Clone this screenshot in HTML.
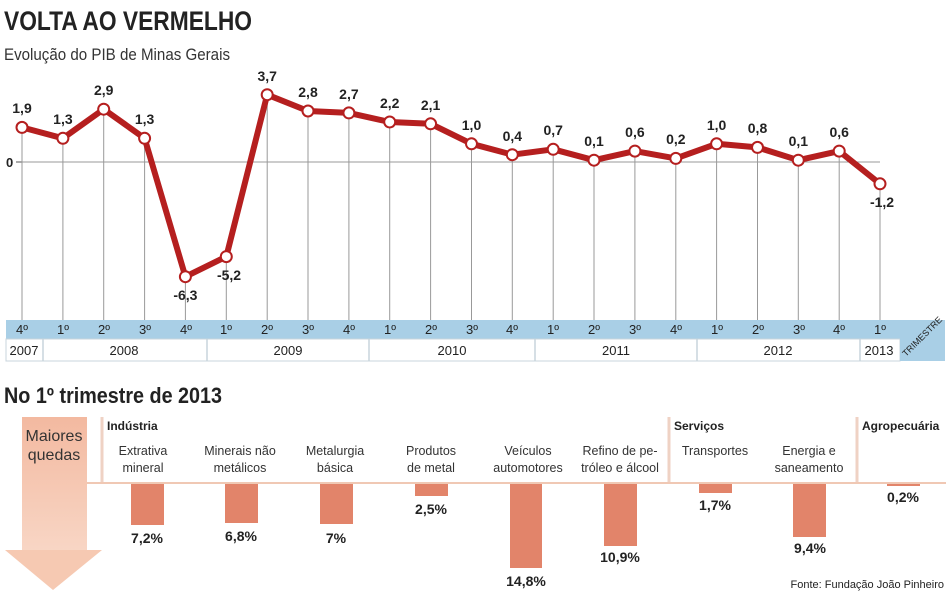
<!DOCTYPE html>
<html><head><meta charset="utf-8"><style>
body{margin:0;background:#fff;}
svg{display:block;font-family:"Liberation Sans",sans-serif;}
</style></head><body>
<svg width="950" height="610" viewBox="0 0 950 610" xmlns="http://www.w3.org/2000/svg">
<defs><linearGradient id="ag" x1="0" y1="0" x2="0" y2="1"><stop offset="0" stop-color="#f3b9a0"/><stop offset="1" stop-color="#f8d6c5"/></linearGradient></defs>
<text x="4" y="30" font-size="27" font-weight="bold" fill="#222" textLength="248" lengthAdjust="spacingAndGlyphs">VOLTA AO VERMELHO</text>
<text x="4" y="60" font-size="17" fill="#333" textLength="226" lengthAdjust="spacingAndGlyphs">Evolução do PIB de Minas Gerais</text>
<line x1="22" y1="162" x2="880" y2="162" stroke="#999" stroke-width="1"/>
<line x1="16" y1="162" x2="22" y2="162" stroke="#555" stroke-width="1"/>
<text x="6" y="167" font-size="13" font-weight="bold" fill="#222">0</text>
<g stroke="#999" stroke-width="1">
<line x1="22" y1="127" x2="22" y2="320"/><line x1="62.9" y1="138" x2="62.9" y2="320"/><line x1="103.7" y1="109" x2="103.7" y2="320"/><line x1="144.6" y1="138" x2="144.6" y2="320"/><line x1="185.4" y1="277" x2="185.4" y2="320"/><line x1="226.3" y1="257" x2="226.3" y2="320"/><line x1="267.2" y1="95" x2="267.2" y2="320"/><line x1="308" y1="111" x2="308" y2="320"/><line x1="348.9" y1="113" x2="348.9" y2="320"/><line x1="389.7" y1="122" x2="389.7" y2="320"/><line x1="430.6" y1="124" x2="430.6" y2="320"/><line x1="471.5" y1="144" x2="471.5" y2="320"/><line x1="512.3" y1="155" x2="512.3" y2="320"/><line x1="553.2" y1="149" x2="553.2" y2="320"/><line x1="594" y1="160" x2="594" y2="320"/><line x1="634.9" y1="151" x2="634.9" y2="320"/><line x1="675.8" y1="158" x2="675.8" y2="320"/><line x1="716.6" y1="144" x2="716.6" y2="320"/><line x1="757.5" y1="147" x2="757.5" y2="320"/><line x1="798.3" y1="160" x2="798.3" y2="320"/><line x1="839.2" y1="151" x2="839.2" y2="320"/><line x1="880" y1="184" x2="880" y2="320"/>
</g>
<polyline fill="none" stroke="#b51f1f" stroke-width="6" stroke-linejoin="round" points="22,127.4 62.9,138.3 103.7,109.2 144.6,138.3 185.4,276.7 226.3,256.6 267.2,94.7 308,111 348.9,112.9 389.7,122 430.6,123.8 471.5,143.8 512.3,154.7 553.2,149.3 594,160.2 634.9,151.1 675.8,158.4 716.6,143.8 757.5,147.4 798.3,160.2 839.2,151.1 880,183.8"/>
<g fill="#fff" stroke="#b51f1f" stroke-width="2">
<circle cx="22" cy="127.4" r="5.5"/><circle cx="62.9" cy="138.3" r="5.5"/><circle cx="103.7" cy="109.2" r="5.5"/><circle cx="144.6" cy="138.3" r="5.5"/><circle cx="185.4" cy="276.7" r="5.5"/><circle cx="226.3" cy="256.6" r="5.5"/><circle cx="267.2" cy="94.7" r="5.5"/><circle cx="308" cy="111" r="5.5"/><circle cx="348.9" cy="112.9" r="5.5"/><circle cx="389.7" cy="122" r="5.5"/><circle cx="430.6" cy="123.8" r="5.5"/><circle cx="471.5" cy="143.8" r="5.5"/><circle cx="512.3" cy="154.7" r="5.5"/><circle cx="553.2" cy="149.3" r="5.5"/><circle cx="594" cy="160.2" r="5.5"/><circle cx="634.9" cy="151.1" r="5.5"/><circle cx="675.8" cy="158.4" r="5.5"/><circle cx="716.6" cy="143.8" r="5.5"/><circle cx="757.5" cy="147.4" r="5.5"/><circle cx="798.3" cy="160.2" r="5.5"/><circle cx="839.2" cy="151.1" r="5.5"/><circle cx="880" cy="183.8" r="5.5"/>
</g>
<g font-size="14" font-weight="bold" fill="#222" text-anchor="middle">
<text x="22" y="113">1,9</text><text x="62.9" y="124">1,3</text><text x="103.7" y="95">2,9</text><text x="144.6" y="124">1,3</text><text x="185.4" y="300">-6,3</text><text x="229" y="280">-5,2</text><text x="267.2" y="81">3,7</text><text x="308" y="97">2,8</text><text x="348.9" y="99">2,7</text><text x="389.7" y="108">2,2</text><text x="430.6" y="110">2,1</text><text x="471.5" y="130">1,0</text><text x="512.3" y="141">0,4</text><text x="553.2" y="135">0,7</text><text x="594" y="146">0,1</text><text x="634.9" y="137">0,6</text><text x="675.8" y="144">0,2</text><text x="716.6" y="130">1,0</text><text x="757.5" y="133">0,8</text><text x="798.3" y="146">0,1</text><text x="839.2" y="137">0,6</text><text x="882" y="207">-1,2</text>
</g>
<rect x="6" y="320" width="939" height="19" fill="#a9cfe6"/>
<rect x="6" y="339" width="894" height="22" fill="#fff" stroke="#c8d4dc" stroke-width="1"/>
<rect x="900" y="320" width="45" height="41" fill="#a9cfe6"/>
<g stroke="#c8d4dc" stroke-width="1.5"><line x1="43" y1="339" x2="43" y2="361"/><line x1="207" y1="339" x2="207" y2="361"/><line x1="369" y1="339" x2="369" y2="361"/><line x1="535" y1="339" x2="535" y2="361"/><line x1="697" y1="339" x2="697" y2="361"/><line x1="860" y1="339" x2="860" y2="361"/></g>
<g font-size="13" fill="#222" text-anchor="middle">
<text x="22" y="334">4º</text><text x="63" y="334">1º</text><text x="104" y="334">2º</text><text x="145" y="334">3º</text><text x="186" y="334">4º</text><text x="226" y="334">1º</text><text x="267" y="334">2º</text><text x="308" y="334">3º</text><text x="349" y="334">4º</text><text x="390" y="334">1º</text><text x="431" y="334">2º</text><text x="472" y="334">3º</text><text x="512" y="334">4º</text><text x="553" y="334">1º</text><text x="594" y="334">2º</text><text x="635" y="334">3º</text><text x="676" y="334">4º</text><text x="717" y="334">1º</text><text x="758" y="334">2º</text><text x="799" y="334">3º</text><text x="839" y="334">4º</text><text x="880" y="334">1º</text>
<text x="24" y="355">2007</text><text x="124" y="355">2008</text><text x="288" y="355">2009</text><text x="452" y="355">2010</text><text x="616" y="355">2011</text><text x="778" y="355">2012</text><text x="879" y="355">2013</text>
</g>
<text x="0" y="0" font-size="9" fill="#222" transform="translate(906,357) rotate(-45)">TRIMESTRE</text>
<text x="4" y="403" font-size="22" font-weight="bold" fill="#222" textLength="218" lengthAdjust="spacingAndGlyphs">No 1º trimestre de 2013</text>
<rect x="22" y="417" width="65" height="135" fill="url(#ag)"/>
<polygon points="5,550 102,550 53,590" fill="#f6c9b2"/>
<text x="54" y="441" font-size="16" fill="#333" text-anchor="middle">Maiores</text>
<text x="54" y="460" font-size="16" fill="#333" text-anchor="middle">quedas</text>
<line x1="87" y1="483" x2="946" y2="483" stroke="#f0c8b4" stroke-width="2"/>
<g stroke="#efd2c4" stroke-width="3"><line x1="102" y1="417" x2="102" y2="482"/><line x1="669" y1="417" x2="669" y2="482"/><line x1="857" y1="417" x2="857" y2="482"/></g>
<g font-size="12" font-weight="bold" fill="#222"><text x="107" y="430">Indústria</text><text x="674" y="430">Serviços</text><text x="862" y="430">Agropecuária</text></g>
<g font-size="12.5" fill="#333" text-anchor="middle">
<text x="143" y="455">Extrativa</text><text x="143" y="472">mineral</text>
<text x="240" y="455">Minerais não</text><text x="240" y="472">metálicos</text>
<text x="335" y="455">Metalurgia</text><text x="335" y="472">básica</text>
<text x="431" y="455">Produtos</text><text x="431" y="472">de metal</text>
<text x="528" y="455">Veículos</text><text x="528" y="472">automotores</text>
<text x="620" y="455">Refino de pe-</text><text x="620" y="472">tróleo e álcool</text>
<text x="715" y="455">Transportes</text>
<text x="809" y="455">Energia e</text><text x="809" y="472">saneamento</text>
</g>
<g fill="#e2846a">
<rect x="131" y="484" width="33" height="41"/><rect x="225" y="484" width="33" height="39"/><rect x="320" y="484" width="33" height="40"/><rect x="415" y="484" width="33" height="12"/><rect x="510" y="484" width="32" height="84"/><rect x="604" y="484" width="33" height="62"/><rect x="699" y="484" width="33" height="9"/><rect x="793" y="484" width="33" height="53"/><rect x="887" y="484" width="33" height="2"/>
</g>
<g font-size="14" font-weight="bold" fill="#222" text-anchor="middle">
<text x="147" y="543">7,2%</text><text x="241" y="541">6,8%</text><text x="336" y="543">7%</text><text x="431" y="514">2,5%</text><text x="526" y="586">14,8%</text><text x="620" y="562">10,9%</text><text x="715" y="510">1,7%</text><text x="810" y="553">9,4%</text><text x="903" y="502">0,2%</text>
</g>
<text x="944" y="588" font-size="11" fill="#222" text-anchor="end">Fonte: Fundação João Pinheiro</text>
</svg>
</body></html>
